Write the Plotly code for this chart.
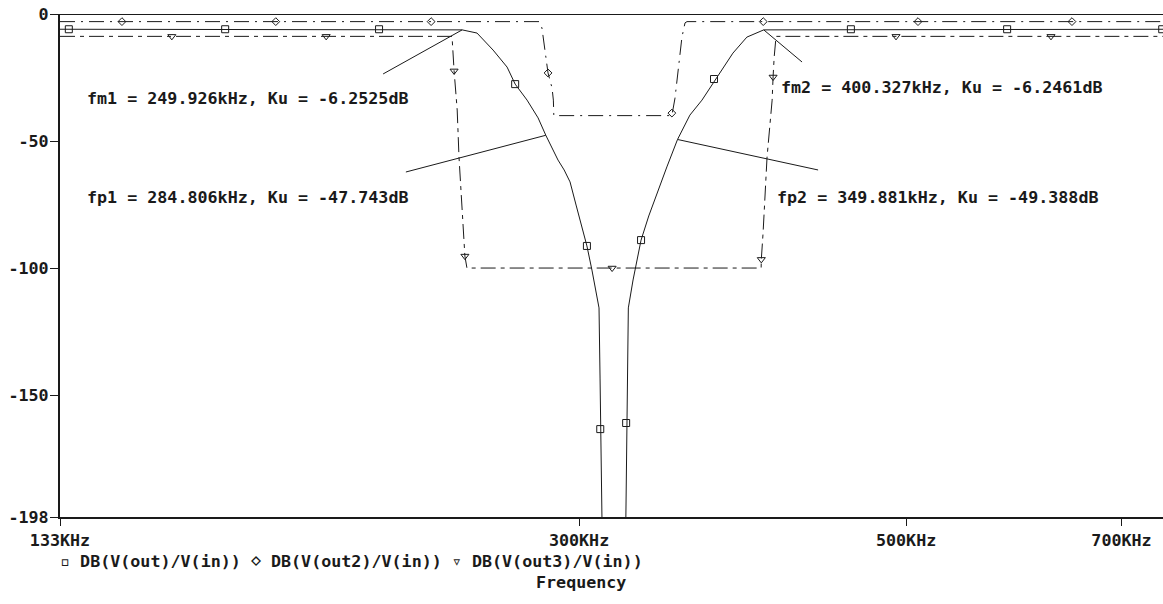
import math
import plotly.graph_objects as go

# ---------------- data (frequency in kHz, gain in dB) ----------------
out_f = [133.35, 249.93, 255.8, 262.3, 268.1, 271.5, 276.6, 281.4, 284.81, 290.3, 293.1,
         295.8, 298.6, 301.8, 303.7, 306.1, 309.5, 310.0, 310.4, 310.9, 311.2, 322.5,
         322.8, 323.2, 323.5, 324.0, 326.4, 328.4, 330.5, 334.5, 338.8, 344.1, 349.88,
         356.7, 363.5, 370.9, 381.5, 389.9, 400.33, 760.0]
out_db = [-6.0, -6.25, -7.5, -14.2, -20.9, -27.6, -33.9, -40.9, -47.74, -57.5, -61.4,
          -66.1, -75.2, -85.0, -91.3, -100.8, -115.7, -143.3, -170.9, -198.0, -215.0, -215.0,
          -198.0, -170.9, -143.3, -115.7, -104.7, -96.9, -89.0, -79.5, -70.5, -60.2, -49.39,
          -39.8, -33.9, -26.0, -15.4, -9.1, -6.25, -6.0]
out_mk_f = [135.2, 172.6, 219.5, 271.5, 303.7, 310.1, 322.9, 330.5, 370.4, 458.7, 585.5, 746.0]
out_mk_db = [-6.0, -6.0, -6.0, -27.6, -91.3, -163.4, -161.0, -89.0, -25.6, -6.0, -6.0, -6.0]

out2_f = [133.35, 281.8, 283.1, 283.6, 285.8, 287.6, 288.2, 288.4, 346.8, 348.5, 350.3,
          352.3, 354.0, 355.1, 760.0]
out2_db = [-3.0, -3.0, -5.5, -9.0, -23.2, -29.1, -33.9, -40.0, -40.0, -33.1, -20.9,
           -9.1, -3.5, -3.0, -3.0]
out2_mk_f = [146.9, 186.8, 238.1, 285.8, 346.8, 400.0, 509.4, 647.9]
out2_mk_db = [-3.0, -3.0, -3.0, -23.2, -39.0, -3.0, -3.0, -3.0]

out3_f = [133.35, 246.0, 246.8, 248.0, 248.7, 249.5, 250.2, 251.0, 251.8, 398.7, 398.8,
          399.9, 402.4, 404.3, 405.6, 406.2, 406.9, 408.1, 760.0]
out3_db = [-8.8, -8.8, -22.4, -37.8, -56.3, -70.5, -86.2, -95.3, -100.0, -100.0, -96.6,
           -86.2, -56.3, -41.7, -33.9, -24.8, -16.9, -8.8, -8.8]
out3_mk_f = [158.8, 202.1, 246.8, 251.0, 315.9, 398.8, 406.2, 492.2, 627.0]
out3_mk_db = [-8.8, -8.8, -22.4, -95.3, -100.0, -96.6, -24.8, -8.8, -8.8]

# cursor pointer lines (tail, point)
ptr_fm1_f, ptr_fm1_db = [220.9, 249.93], [-23.6, -6.25]
ptr_fp1_f, ptr_fp1_db = [228.9, 284.81], [-62.2, -47.74]
ptr_fm2_f, ptr_fm2_db = [400.33, 425.0], [-6.25, -18.9]
ptr_fp2_f, ptr_fp2_db = [349.88, 435.8], [-49.39, -61.4]

labels = [
    "fm1 = 249.926kHz, Ku = -6.2525dB",
    "fp1 = 284.806kHz, Ku = -47.743dB",
    "fm2 = 400.327kHz, Ku = -6.2461dB",
    "fp2 = 349.881kHz, Ku = -49.388dB",
]
x_tickvals = [133.35, 300, 500, 700]
x_ticktext = ["133KHz", "300KHz", "500KHz", "700KHz"]
y_tickvals = [0, -50, -100, -150, -198]
y_ticktext = ["0", "-50", "-100", "-150", "-198"]
legend_names = ["DB(V(out)/V(in))", "DB(V(out2)/V(in))", "DB(V(out3)/V(in))"]
legend_syms = ["▫", "⋄", "▿"]

# ---------------- figure ----------------
INK = "#1a1a1a"
FONT = "DejaVu Sans Mono"
FS = 16.7
W, H = 1163, 604
ML, MR, MT, MB = 60, 0, 14, 87
PW, PH = W - ML - MR, H - MT - MB

def px(xp):
    return (xp - ML) / PW

def py(yp):
    return (H - MB - yp) / PH

fig = go.Figure()

fig.add_trace(go.Scatter(x=out_f, y=out_db, mode="lines",
                         line=dict(color=INK, width=1), showlegend=False))
fig.add_trace(go.Scatter(x=out2_f, y=out2_db, mode="lines",
                         line=dict(color=INK, width=1, dash="15px,6px,2px,6px"), showlegend=False))
fig.add_trace(go.Scatter(x=out3_f, y=out3_db, mode="lines",
                         line=dict(color=INK, width=1, dash="15px,5px,4px,5px"), showlegend=False))

fig.add_trace(go.Scatter(x=out_mk_f, y=out_mk_db, mode="markers",
                         marker=dict(symbol="square-open", size=7, color=INK, line=dict(width=1)),
                         showlegend=False))
fig.add_trace(go.Scatter(x=out2_mk_f, y=out2_mk_db, mode="markers",
                         marker=dict(symbol="diamond-open", size=6, color=INK, line=dict(width=1)),
                         showlegend=False))
fig.add_trace(go.Scatter(x=out3_mk_f, y=out3_mk_db, mode="markers",
                         marker=dict(symbol="triangle-down-open", size=7, color=INK, line=dict(width=1)),
                         showlegend=False))

for fx, fy in [(ptr_fm1_f, ptr_fm1_db), (ptr_fp1_f, ptr_fp1_db),
               (ptr_fm2_f, ptr_fm2_db), (ptr_fp2_f, ptr_fp2_db)]:
    fig.add_trace(go.Scatter(x=fx, y=fy, mode="lines",
                             line=dict(color=INK, width=1), showlegend=False))

# 0 dB top line
fig.add_shape(type="line", xref="paper", yref="y", x0=0, x1=1, y0=0, y1=0,
              line=dict(color=INK, width=2))

txt_pos = [(85, 98), (85, 197), (779, 87), (775, 197)]
for t, (xp, yp) in zip(labels, txt_pos):
    fig.add_annotation(text=t, xref="paper", yref="paper", x=px(xp), y=py(yp),
                       xanchor="left", yanchor="middle", showarrow=False,
                       font=dict(family=FONT, size=FS, color=INK, weight="bold"))

legend_txt = " ".join(s + " " + n for s, n in zip(legend_syms, legend_names))
fig.add_annotation(text=legend_txt, xref="paper", yref="paper", x=px(58), y=py(561),
                   xanchor="left", yanchor="middle", showarrow=False,
                   font=dict(family=FONT, size=FS, color=INK, weight="bold"))
fig.add_annotation(text="Frequency", xref="paper", yref="paper", x=px(581), y=py(582),
                   xanchor="center", yanchor="middle", showarrow=False,
                   font=dict(family=FONT, size=FS, color=INK, weight="bold"))

fig.update_xaxes(type="log", range=[math.log10(133.35), math.log10(746.9)],
                 tickvals=x_tickvals, ticktext=x_ticktext,
                 ticks="outside", ticklen=7, tickwidth=1, tickcolor=INK,
                 showline=True, linewidth=2, linecolor=INK,
                 showgrid=False, zeroline=False,
                 tickfont=dict(family=FONT, size=FS, color=INK, weight="bold"))
fig.update_yaxes(range=[-198, 0], tickvals=y_tickvals, ticktext=y_ticktext,
                 ticks="outside", ticklen=8, tickwidth=1, tickcolor=INK,
                 ticklabelstandoff=-2,
                 showline=True, linewidth=2, linecolor=INK,
                 showgrid=False, zeroline=False,
                 tickfont=dict(family=FONT, size=FS, color=INK, weight="bold"))

fig.update_layout(width=W, height=H, margin=dict(l=ML, r=MR, t=MT, b=MB, pad=0),
                  plot_bgcolor="white", paper_bgcolor="white", showlegend=False)

fig.write_html("out.html")
